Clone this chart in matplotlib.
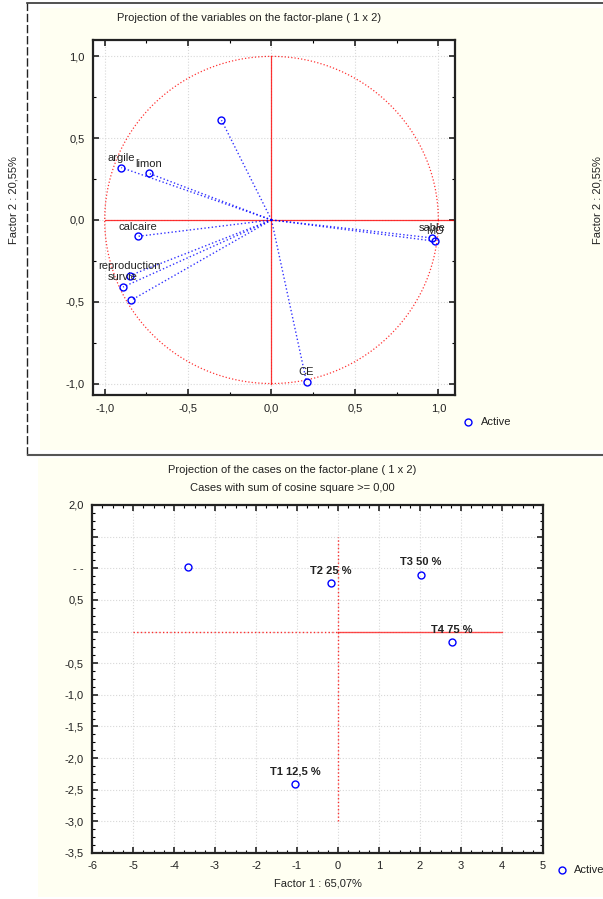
import numpy as np
import matplotlib.pyplot as plt
from matplotlib.patches import Rectangle
from matplotlib.lines import Line2D
from matplotlib.ticker import MultipleLocator

plt.rcParams['font.family'] = ['Liberation Sans', 'DejaVu Sans']
plt.rcParams['axes.unicode_minus'] = False

# variables (factor loadings)
var_names = ['', 'argile', 'limon', 'calcaire', 'reproduction', 'survie', '', 'sable', 'MO', 'CE']
var_f1 = [-0.30, -0.90, -0.735, -0.80, -0.85, -0.89, -0.84, 0.965, 0.98, 0.21]
var_f2 = [0.61, 0.32, 0.285, -0.10, -0.34, -0.41, -0.49, -0.11, -0.13, -0.99]

# cases (factor scores)
case_names = ['', 'T2 25 %', 'T3 50 %', 'T4 75 %', 'T1 12,5 %']
case_f1 = [-3.67, -0.17, 2.02, 2.77, -1.05]
case_f2 = [1.02, 0.76, 0.90, -0.17, -2.41]

top_ticks = [-1.0, -0.5, 0.0, 0.5, 1.0]
top_ticklabels = ['-1,0', '-0,5', '0,0', '0,5', '1,0']
bot_xticks = [-6, -5, -4, -3, -2, -1, 0, 1, 2, 3, 4, 5]
bot_yticks = [-3.5, -3.0, -2.5, -2.0, -1.5, -1.0, -0.5, 0.0, 0.5, 1.0, 1.5, 2.0]
bot_yticklabels = ['-3,5', '-3,0', '-2,5', '-2,0', '-1,5', '-1,0', '-0,5', '', '0,5', '- -', '', '2,0']

W, H = 603, 899
fig = plt.figure(figsize=(W / 100, H / 100), dpi=100)
fig.patch.set_facecolor('white')


def fx(px):
    return px / W


def fy(py):
    return 1 - py / H


cream = '#fffff2'
# panel backgrounds and frames
fig.patches.append(Rectangle((fx(40), fy(450)), fx(563), 442 / H, transform=fig.transFigure,
                             facecolor=cream, edgecolor='none', zorder=-5))
fig.patches.append(Rectangle((fx(38), fy(897)), fx(565), 439 / H, transform=fig.transFigure,
                             facecolor=cream, edgecolor='none', zorder=-5))
fig.lines.append(Line2D([fx(27), fx(27)], [fy(455), fy(3)], transform=fig.transFigure,
                        color='#222222', lw=1.0, ls=(0, (6, 2)), zorder=-4))
fig.lines.append(Line2D([fx(27), 1], [fy(3), fy(3)], transform=fig.transFigure,
                        color='#333333', lw=1.2, zorder=-4))
fig.lines.append(Line2D([fx(28), 1], [fy(455), fy(455)], transform=fig.transFigure,
                        color='#555555', lw=1.5, zorder=-4))


def style_axes(ax):
    ax.set_facecolor('white')
    ax.tick_params(direction='in', top=True, right=True, labelsize=8, length=4, width=1.2,
                   pad=6, colors='#222222')
    ax.tick_params(which='minor', direction='in', top=True, right=True, length=2, width=0.8)
    for s in ax.spines.values():
        s.set_linewidth(1.6)
        s.set_color('#222222')
    ax.grid(True, color='#d8d8d8', ls=':', lw=0.8)
    ax.set_axisbelow(True)


# ---- top: variables ----
ax1 = fig.add_axes([fx(93), fy(395), fx(362), 355 / H])
style_axes(ax1)
ax1.set_xlim(-1.07, 1.10)
ax1.set_ylim(-1.07, 1.10)
ax1.set_xticks(top_ticks)
ax1.set_xticklabels(top_ticklabels)
ax1.set_yticks(top_ticks)
ax1.set_yticklabels(top_ticklabels)
ax1.xaxis.set_minor_locator(MultipleLocator(0.25))
ax1.yaxis.set_minor_locator(MultipleLocator(0.25))

t = np.linspace(0, 2 * np.pi, 400)
ax1.plot(np.cos(t), np.sin(t), color='red', ls=':', lw=0.9, alpha=0.8)
ax1.plot([-1.0, 1.10], [0, 0], color='red', lw=0.9, alpha=0.8)
ax1.plot([0, 0], [-1.0, 1.0], color='red', lw=0.9, alpha=0.8)

for name, x, y in zip(var_names, var_f1, var_f2):
    ax1.plot([0, x], [0, y], color='blue', ls=':', lw=1.0, alpha=0.8)
    ax1.plot(x, y, 'o', mfc='none', mec='blue', ms=5, mew=1.0)
    if name:
        ax1.annotate(name, (x, y), xytext=(0, 7), textcoords='offset points',
                     ha='center', va='center', fontsize=8, color='#222222')

fig.text(fx(249), fy(18), 'Projection of the variables on the factor-plane ( 1 x 2)',
         ha='center', va='center', fontsize=8, color='#222222')
fig.text(fx(14), fy(200), 'Factor 2 : 20,55%', rotation=90, ha='center', va='center',
         fontsize=8, color='#222222')
fig.text(fx(597), fy(200), 'Factor 2 : 20,55%', rotation=90, ha='center', va='center',
         fontsize=8, color='#222222')
fig.lines.append(Line2D([fx(468)], [fy(422)], transform=fig.transFigure, marker='o',
                        mfc='none', mec='blue', ms=5, mew=1.0, ls='none'))
fig.text(fx(481), fy(422), 'Active', ha='left', va='center', fontsize=8, color='#222222')

# ---- bottom: cases ----
ax2 = fig.add_axes([fx(92), fy(853), fx(451), 348 / H])
style_axes(ax2)
ax2.set_xlim(-6, 5)
ax2.set_ylim(-3.5, 2.0)
ax2.set_xticks(bot_xticks)
ax2.set_yticks(bot_yticks)
ax2.set_yticklabels(bot_yticklabels)
ax2.xaxis.set_minor_locator(MultipleLocator(0.25))
ax2.yaxis.set_minor_locator(MultipleLocator(0.125))

ax2.plot([-5, 0], [0, 0], color='red', ls=':', lw=1.0, alpha=0.8)
ax2.plot([0, 4], [0, 0], color='red', ls='-', lw=1.0, alpha=0.7)
ax2.plot([0, 0], [-3.0, 1.5], color='red', ls=':', lw=1.0, alpha=0.8)

for name, x, y in zip(case_names, case_f1, case_f2):
    ax2.plot(x, y, 'o', mfc='none', mec='blue', ms=5, mew=1.0)
    if name:
        ax2.annotate(name, (x, y), xytext=(0, 9), textcoords='offset points',
                     ha='center', va='center', fontsize=8, fontweight='bold', color='#222222')

ax2.set_xlabel('Factor 1 : 65,07%', fontsize=8, color='#222222', labelpad=5)
fig.text(fx(292), fy(470), 'Projection of the cases on the factor-plane ( 1 x 2)',
         ha='center', va='center', fontsize=8, color='#222222')
fig.text(fx(292), fy(488), 'Cases with sum of cosine square >= 0,00',
         ha='center', va='center', fontsize=8, color='#222222')
fig.lines.append(Line2D([fx(562)], [fy(870)], transform=fig.transFigure, marker='o',
                        mfc='none', mec='blue', ms=5, mew=1.0, ls='none'))
fig.text(fx(574), fy(870), 'Active', ha='left', va='center', fontsize=8, color='#222222')

fig.savefig('out.png', dpi=100)
